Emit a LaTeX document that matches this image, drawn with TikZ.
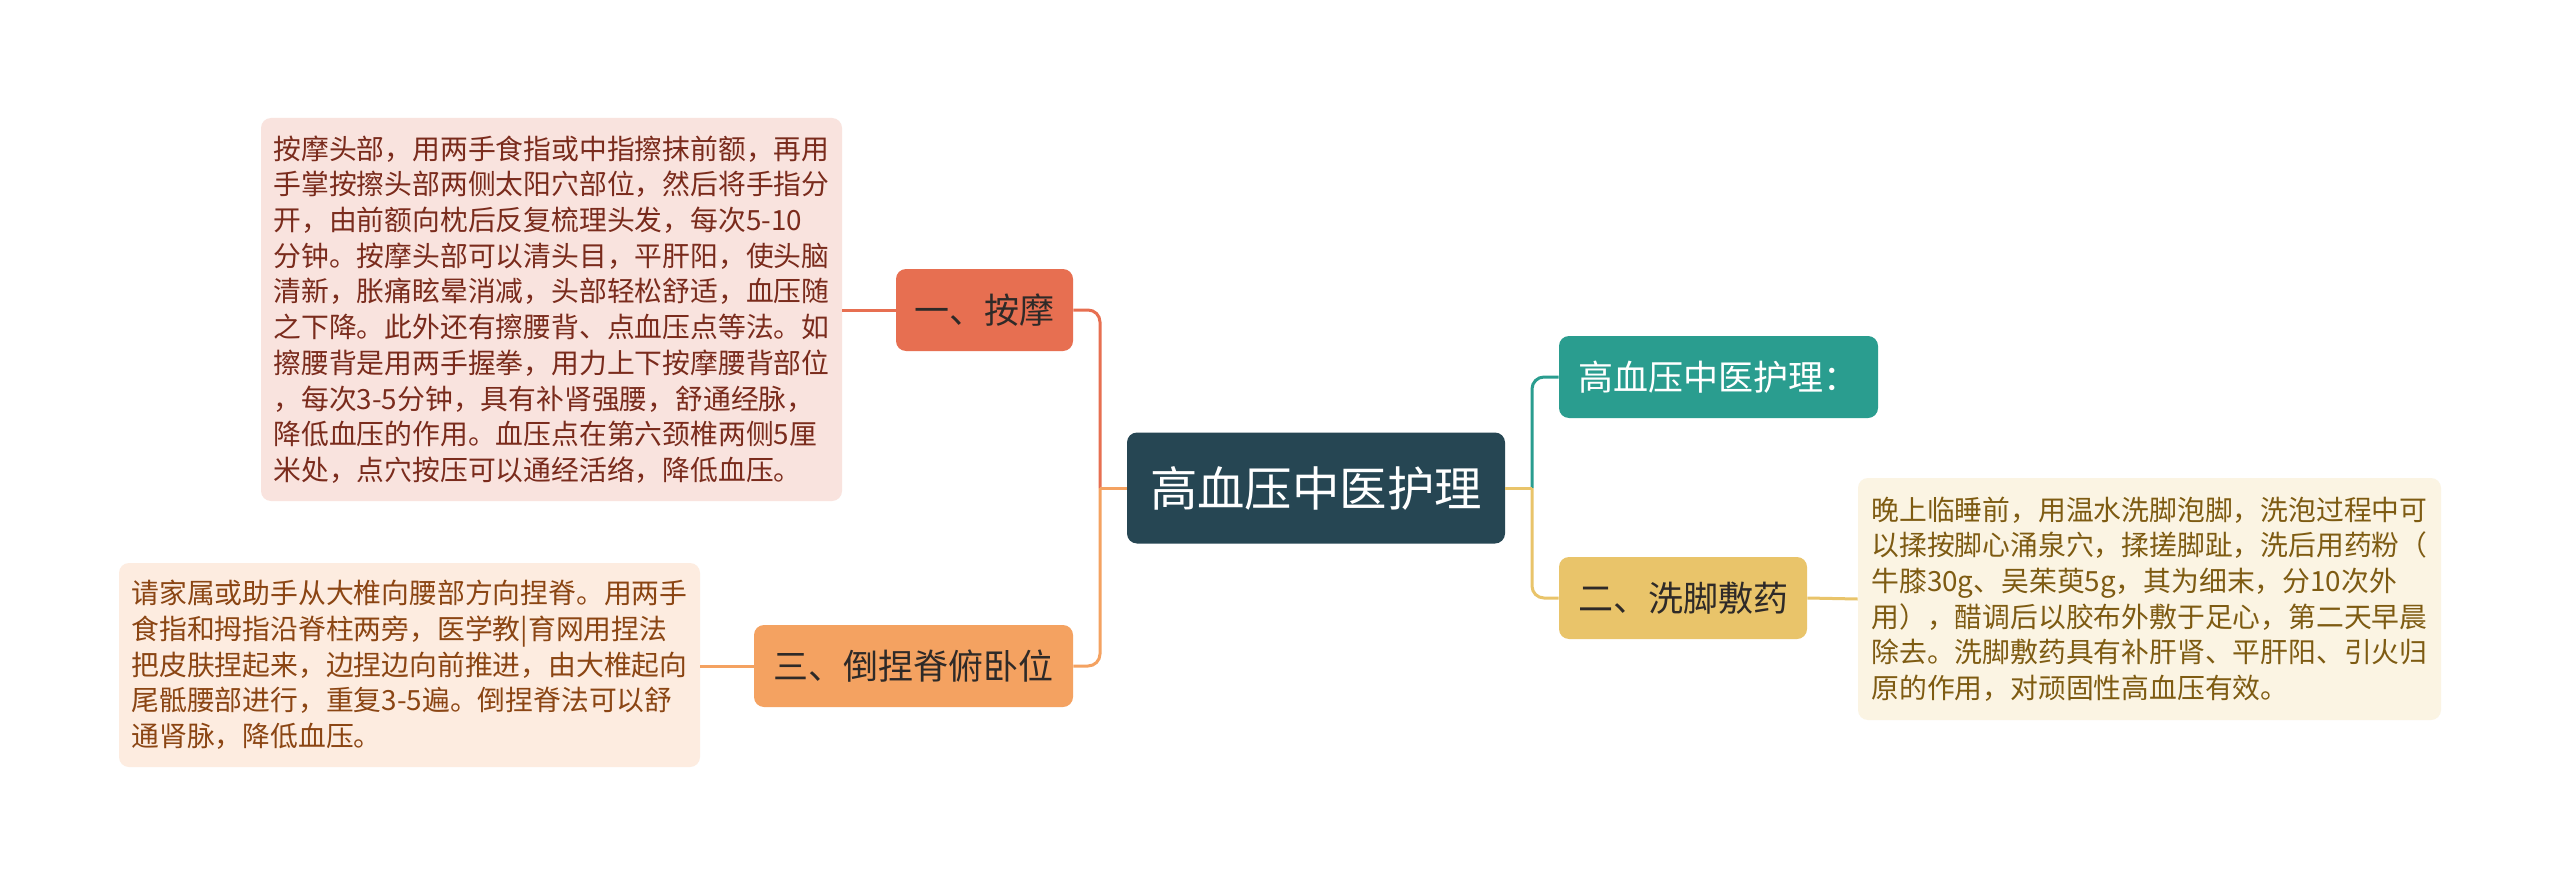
\documentclass[tikz,border=0pt]{standalone}
\usepackage{fontspec}
\setmainfont{Noto Sans CJK SC}
\definecolor{rootc}{HTML}{264653}
\definecolor{tealc}{HTML}{2A9D8F}
\definecolor{yelc}{HTML}{E9C46A}
\definecolor{orgc}{HTML}{F4A261}
\definecolor{redc}{HTML}{E76F51}
\definecolor{redbg}{HTML}{F9E3DE}
\definecolor{orgbg}{HTML}{FDECE0}
\definecolor{yelbg}{HTML}{FBF4E3}
\definecolor{redtx}{HTML}{7A2B1C}
\definecolor{orgtx}{HTML}{8B4513}
\definecolor{yeltx}{HTML}{7E5B12}
\definecolor{darktx}{HTML}{2E2A28}

\begin{document}
\begin{tikzpicture}[x=0.5pt, y=-0.5pt,
  box/.style={rounded corners=5pt, inner sep=0pt, align=center},
  topic/.style={box, font=\fontsize{17.5}{21}\selectfont, minimum height=41pt},
  memo/.style={box, align=left, font=\fontsize{13.9}{17.85}\selectfont},
  link/.style={line width=1.5pt}]
\useasboundingbox[fill=white] (0,0) rectangle (2560,888);
\node[box, fill=rootc, text=white, font=\fontsize{23.7}{28}\selectfont,
  minimum width=189pt, minimum height=55.5pt] (R) at (1316,488) {高血压中医护理};
\node[topic, fill=tealc, text=white, minimum width=159.5pt] (T) at (1718.5,377) {高血压中医护理：};
\node[topic, fill=yelc, text=darktx, minimum width=124pt] (Y) at (1683,598) {二、洗脚敷药};
\node[topic, fill=redc, text=darktx, minimum width=88.5pt] (M) at (984.5,310) {一、按摩};
\node[topic, fill=orgc, text=darktx, minimum width=159.5pt] (N) at (913.5,666) {三、倒捏脊俯卧位};
\node[memo, fill=yelbg, text=yeltx, minimum width=291.5pt, minimum height=121pt] (Yt) at (2149.5,599) {%
晚上临睡前，用温水洗脚泡脚，洗泡过程中可\\
以揉按脚心涌泉穴，揉搓脚趾，洗后用药粉（\\
牛膝30g、吴茱萸5g，其为细末，分10次外\\
用），醋调后以胶布外敷于足心，第二天早晨\\
除去。洗脚敷药具有补肝肾、平肝阳、引火归\\
原的作用，对顽固性高血压有效。};
\node[memo, fill=redbg, text=redtx, minimum width=290.5pt, minimum height=191.5pt] (Mt) at (551.5,309.5) {%
按摩头部，用两手食指或中指擦抹前额，再用\\
手掌按擦头部两侧太阳穴部位，然后将手指分\\
开，由前额向枕后反复梳理头发，每次5-10\\
分钟。按摩头部可以清头目，平肝阳，使头脑\\
清新，胀痛眩晕消减，头部轻松舒适，血压随\\
之下降。此外还有擦腰背、点血压点等法。如\\
擦腰背是用两手握拳，用力上下按摩腰背部位\\
，每次3-5分钟，具有补肾强腰，舒通经脉，\\
降低血压的作用。血压点在第六颈椎两侧5厘\\
米处，点穴按压可以通经活络，降低血压。};
\node[memo, fill=orgbg, text=orgtx, minimum width=290.5pt, minimum height=102pt] (Nt) at (409.5,665) {%
请家属或助手从大椎向腰部方向捏脊。用两手\\
食指和拇指沿脊柱两旁，医学教|育网用捏法\\
把皮肤捏起来，边捏边向前推进，由大椎起向\\
尾骶腰部进行，重复3-5遍。倒捏脊法可以舒\\
通肾脉，降低血压。};
\coordinate (Jr) at (1532,488);
\coordinate (Jl) at (1100,488);
% right side
\draw[link, tealc, rounded corners=6pt] (Jr) |- (T.west);
\draw[link, yelc, rounded corners=6pt] (Jr) |- (Y.west);
\draw[link, yelc] (R.east) -- (Jr);
\draw[link, yelc] (Y.east) -- (Yt.west);
% left side
\draw[link, redc, rounded corners=6pt] (Jl) |- (M.east);
\draw[link, orgc, rounded corners=6pt] (Jl) |- (N.east);
\draw[link, orgc] (R.west) -- (Jl);
\draw[link, redc] (M.west) -- (M.west -| Mt.east);
\draw[link, orgc] (N.west) -- (N.west -| Nt.east);
\end{tikzpicture}
\end{document}
